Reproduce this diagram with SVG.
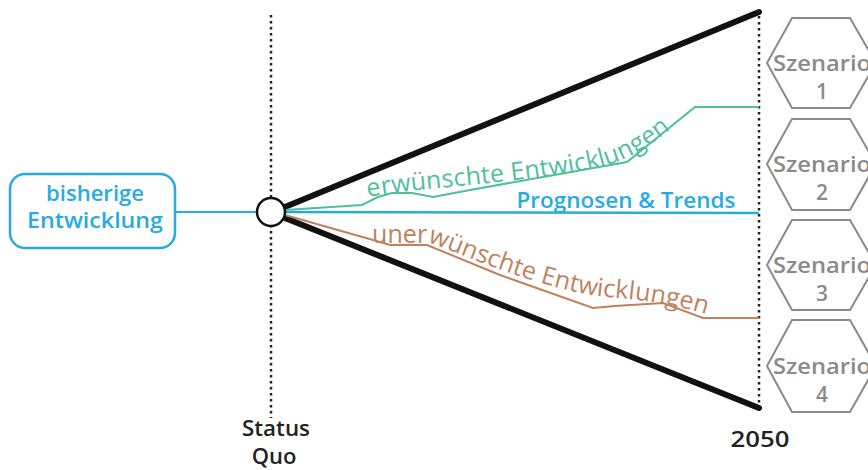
<svg xmlns="http://www.w3.org/2000/svg" width="868" height="470" viewBox="0 0 868 470">
<style>
.dot{stroke:#222;stroke-width:2.5;stroke-dasharray:2.5 3.5;fill:none}
.thick{stroke:#111;stroke-width:6;stroke-linecap:round;fill:none}
.hex{fill:#fff;stroke:#8a8a8a;stroke-width:2}
.hext{font-family:"Open Sans",sans-serif;font-size:21px;font-weight:600;fill:#8a8a8a;text-anchor:middle}
.lbl{font-family:"Open Sans",sans-serif;text-anchor:middle;font-weight:600}
</style>
<defs>
<path id="gp" d="M368,197 C420,187 520,184 600,167 C640,157 660,137 700,107"/>
<path id="bp" d="M372,243 L430,243 C470,257 520,281 590,295 C620,299 660,299 715,317"/>
</defs>
<g id="connectors">
<line class="dot" x1="271" y1="15" x2="271" y2="418"/>
<line class="dot" x1="759" y1="16" x2="759" y2="410"/>
<line class="thick" x1="280" y1="209" x2="759" y2="12"/>
<line class="thick" x1="280" y1="216" x2="759" y2="408"/>
<line x1="175" y1="212" x2="257" y2="212" stroke="#29abe2" stroke-width="2"/>
<line x1="285" y1="212" x2="759" y2="213" stroke="#29abe2" stroke-width="2.5"/>
<polyline points="285,210 362,205 378,197 392,193 412,193 433,197 470,190 627,162 695,107 759,107" fill="none" stroke="#4fbf9d" stroke-width="2"/>
<polyline points="285,215 373,240 390,245 427,245 500,275 593,308 615,306 663,303 703,318 759,318" fill="none" stroke="#c0825c" stroke-width="2"/>
</g>
<g id="bisherige">
<rect x="10" y="174" width="165" height="74" rx="15" fill="#fff" stroke="#29abe2" stroke-width="2.5"/>
<text class="lbl" x="95" y="201" font-size="21" fill="#29abe2" textLength="98" lengthAdjust="spacingAndGlyphs">bisherige</text>
<text class="lbl" x="95" y="228" font-size="21" fill="#29abe2" textLength="136" lengthAdjust="spacingAndGlyphs">Entwicklung</text>
</g>
<g id="statusquo">
<circle cx="271" cy="212" r="14" fill="#fff" stroke="#111" stroke-width="2.5"/>
<text class="lbl" x="276" y="436" font-size="22" fill="#222" textLength="68" lengthAdjust="spacingAndGlyphs">Status</text>
<text class="lbl" x="274" y="464" font-size="22" fill="#222">Quo</text>
</g>
<g id="y2050">
<text class="lbl" x="760" y="447" font-size="22" font-weight="bold" fill="#222" textLength="59" lengthAdjust="spacingAndGlyphs">2050</text>
</g>
<g id="erwuenscht">
<text font-family="Open Sans,sans-serif" font-size="25" font-weight="500" fill="#4fbf9d"><textPath href="#gp" textLength="315" lengthAdjust="spacing">erwünschte Entwicklungen</textPath></text>
</g>
<g id="prognosen">
<text class="lbl" x="626" y="208" font-size="21" fill="#29abe2" textLength="219" lengthAdjust="spacingAndGlyphs">Prognosen &amp; Trends</text>
</g>
<g id="unerwuenscht">
<text font-family="Open Sans,sans-serif" font-size="25" font-weight="500" fill="#c0825c"><textPath href="#bp" textLength="345" lengthAdjust="spacing">unerwünschte Entwicklungen</textPath></text>
</g>
<g id="s1">
<polygon class="hex" points="792,18 850,18 876,63 850,108 792,108 767,63"/>
<text class="hext" x="822" y="71" textLength="98" lengthAdjust="spacingAndGlyphs">Szenario</text>
<text class="hext" x="822" y="99">1</text>
</g>
<g id="s2">
<polygon class="hex" points="792,119 850,119 876,164 850,210 792,210 767,164"/>
<text class="hext" x="822" y="172" textLength="98" lengthAdjust="spacingAndGlyphs">Szenario</text>
<text class="hext" x="822" y="200">2</text>
</g>
<g id="s3">
<polygon class="hex" points="792,220 850,220 876,265 850,310 792,310 767,265"/>
<text class="hext" x="822" y="273" textLength="98" lengthAdjust="spacingAndGlyphs">Szenario</text>
<text class="hext" x="822" y="301">3</text>
</g>
<g id="s4">
<polygon class="hex" points="792,320 850,320 876,366 850,412 792,412 767,366"/>
<text class="hext" x="822" y="374" textLength="98" lengthAdjust="spacingAndGlyphs">Szenario</text>
<text class="hext" x="822" y="402">4</text>
</g>
</svg>
